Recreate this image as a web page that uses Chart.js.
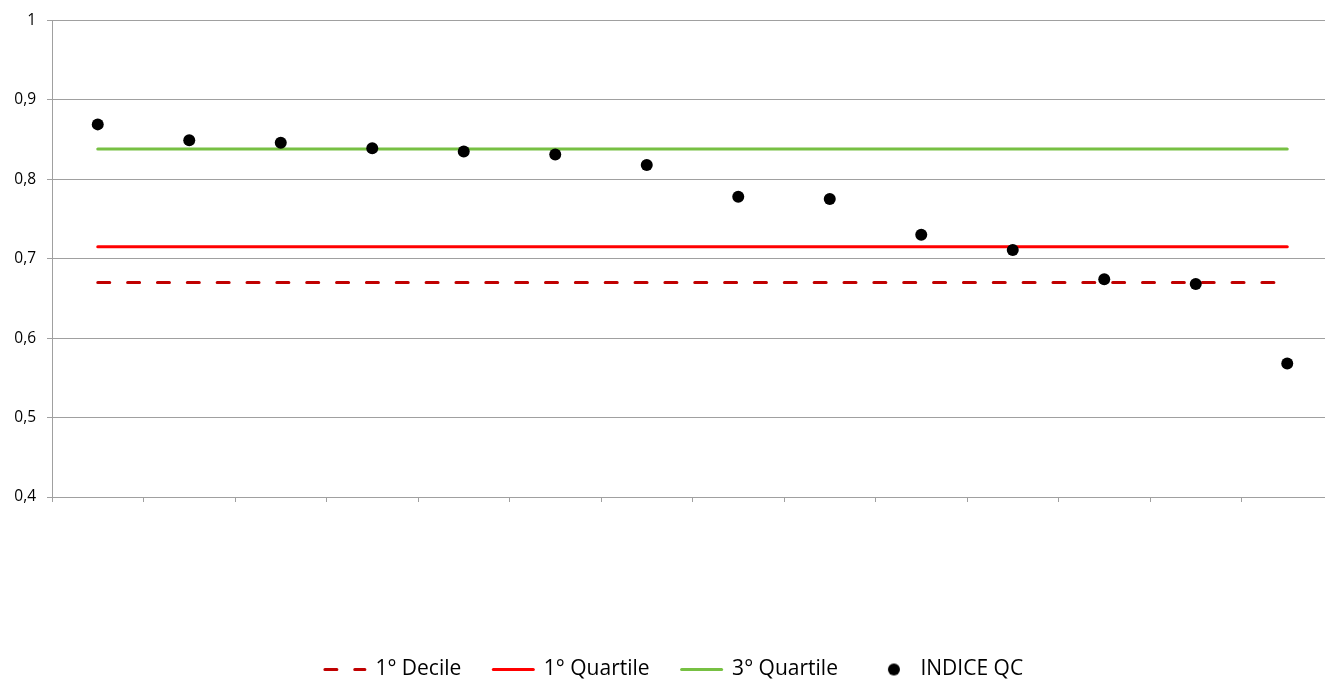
<!DOCTYPE html>
<html lang="it">
<head>
  <meta charset="UTF-8" />
  <title>Indice QC</title>
  <script src="https://cdn.jsdelivr.net/npm/chart.js"></script>
  <style>
    html, body {
      margin: 0;
      padding: 0;
      background: #ffffff;
      overflow: hidden;
    }
    /* la tela è un po' più grande della finestra: il bordo destro e il fondo restano tagliati */
    .cornice {
      width: 1325px;
      height: 680px;
      overflow: hidden;
    }
    canvas {
      display: block;
    }
  </style>
</head>
<body>
  <div class="cornice">
    <canvas id="grafico" width="1335" height="690"></canvas>
  </div>

  <script>
    // categorie (etichette non mostrate sull'asse)
    const categorie = ['1', '2', '3', '4', '5', '6', '7', '8', '9', '10', '11', '12', '13', '14'];
    // valori dell'indice per categoria
    const indiceQC = [0.869, 0.849, 0.846, 0.839, 0.835, 0.831, 0.818, 0.778, 0.775, 0.730, 0.711, 0.674, 0.668, 0.568];
    // soglie di riferimento
    const primoDecile = 0.670;
    const primoQuartile = 0.715;
    const terzoQuartile = 0.838;
    const tickY = [0.4, 0.5, 0.6, 0.7, 0.8, 0.9, 1];

    const grigio = '#a0a0a0';
    const fontBase = "'Open Sans', 'DejaVu Sans', sans-serif";
    const largCampione = 40;

    // segnaposto per il pallino in legenda (spostato verso il testo)
    function puntoLegenda() {
      const c = document.createElement('canvas');
      c.width = largCampione;
      c.height = 14;
      const g = c.getContext('2d');
      g.fillStyle = '#000';
      g.beginPath();
      g.arc(largCampione / 2 + 4, 7, 6, 0, Math.PI * 2);
      g.fill();
      return c;
    }
    const iconaPunto = puntoLegenda();

    const costante = (v) => categorie.map(() => v);

    const ctx = document.getElementById('grafico').getContext('2d');
    window.grafico = new Chart(ctx, {
      type: 'line',
      data: {
        labels: categorie,
        datasets: [
          {
            label: '1° Decile',
            data: costante(primoDecile),
            borderColor: '#C00000',
            borderWidth: 3,
            borderDash: [12, 17.85],
            borderCapStyle: 'round',
            pointRadius: 0,
            order: 1
          },
          {
            label: '1° Quartile',
            data: costante(primoQuartile),
            borderColor: '#FF0000',
            borderWidth: 3,
            borderCapStyle: 'round',
            pointRadius: 0,
            order: 1
          },
          {
            label: '3° Quartile',
            data: costante(terzoQuartile),
            borderColor: '#77C043',
            borderWidth: 3,
            borderCapStyle: 'round',
            pointRadius: 0,
            order: 1
          },
          {
            label: 'INDICE QC',
            data: indiceQC,
            showLine: false,
            pointRadius: 6,
            pointHoverRadius: 6,
            pointBackgroundColor: '#000',
            pointBorderWidth: 0,
            order: 0
          }
        ]
      },
      options: {
        responsive: false,
        animation: false,
        layout: {
          autoPadding: false,
          padding: { top: 19, left: 15, right: 2, bottom: 0 }
        },
        plugins: {
          tooltip: { enabled: false },
          legend: {
            position: 'bottom',
            labels: {
              usePointStyle: true,
              pointStyleWidth: largCampione,
              padding: 32,
              color: '#000',
              font: { family: fontBase, size: 21 },
              generateLabels(chart) {
                return chart.data.datasets.map((ds, i) => ({
                  text: ds.label,
                  datasetIndex: i,
                  hidden: false,
                  fontColor: '#000',
                  strokeStyle: ds.borderColor || '#000',
                  fillStyle: ds.borderColor || '#000',
                  lineWidth: ds.showLine === false ? 0 : 3,
                  lineDash: ds.borderDash || [],
                  lineCap: 'round',
                  pointStyle: ds.showLine === false ? iconaPunto : 'line'
                }));
              }
            }
          }
        },
        scales: {
          x: {
            offset: true,
            grid: {
              offset: true,
              drawOnChartArea: false,
              tickLength: 5,
              color: grigio
            },
            border: { display: true, color: grigio },
            ticks: { display: false },
            afterFit(scale) {
              scale.height = 130;
            }
          },
          y: {
            min: 0.4,
            max: 1,
            afterBuildTicks(scale) {
              scale.ticks = tickY.map(v => ({ value: v }));
            },
            afterFit(scale) {
              scale.width = 37;
            },
            grid: {
              color: grigio,
              tickLength: 5
            },
            border: { display: true, color: grigio },
            ticks: {
              padding: 11,
              color: '#000',
              font: { family: fontBase, size: 15.5 },
              callback: (v) => String(Math.round(v * 10) / 10).replace('.', ',')
            }
          }
        }
      }
    });
  </script>
</body>
</html>
